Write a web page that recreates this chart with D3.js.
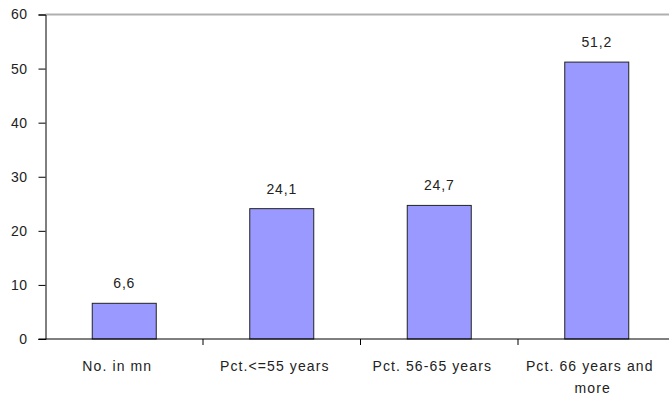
<!DOCTYPE html>
<html>
<head>
<meta charset="utf-8">
<script src="https://cdn.jsdelivr.net/npm/d3@7/dist/d3.min.js"></script>
<style>
  html, body { margin: 0; padding: 0; background: #fff; }
  svg text { font-family: "Liberation Sans", Arial, sans-serif; fill: #222; }
</style>
</head>
<body>
<svg id="chart" width="669" height="398"></svg>
<script>
const categories = ["No. in mn", "Pct.<=55 years", "Pct. 56-65 years", "Pct. 66 years and|more"];
const values = [6.6, 24.1, 24.7, 51.2];
const valueLabels = ["6,6", "24,1", "24,7", "51,2"];
const yTicks = [0, 10, 20, 30, 40, 50, 60];

(function () {
const svg = d3.select("#chart");
const mLeft = 45.5, mRight = 675.5, mTop = 14.5, mBottom = 339;

const x = d3.scaleBand().domain(categories).range([mLeft, mRight]).paddingInner(0).paddingOuter(0);
const y = d3.scaleLinear().domain([0, 60]).range([mBottom, mTop]);

// top frame line of the plot area
svg.append("line")
  .attr("x1", mLeft).attr("x2", 669)
  .attr("y1", y(60)).attr("y2", y(60))
  .attr("stroke", "#b0b0b0").attr("stroke-width", 2);

// bars
const barW = 64;
svg.selectAll("rect.bar").data(values).join("rect")
  .attr("class", "bar")
  .attr("x", (d, i) => x(categories[i]) + x.bandwidth() / 2 - barW / 2)
  .attr("y", d => y(d))
  .attr("width", barW)
  .attr("height", d => y(0) - y(d))
  .attr("fill", "#9999ff")
  .attr("stroke", "#222").attr("stroke-width", 1);

// value labels
svg.selectAll("text.val").data(values).join("text")
  .attr("class", "val")
  .attr("x", (d, i) => x(categories[i]) + x.bandwidth() / 2)
  .attr("y", d => y(d) - 15)
  .attr("text-anchor", "middle")
  .attr("font-size", 14)
  .attr("letter-spacing", 0.8)
  .text((d, i) => valueLabels[i]);

// y axis
const yAxis = d3.axisLeft(y).tickValues(yTicks).tickSize(7).tickPadding(11).tickFormat(d3.format("d"));
const gy = svg.append("g").attr("transform", `translate(${mLeft},0)`).call(yAxis);
gy.select(".domain").attr("stroke", "#000");
gy.selectAll(".tick line").attr("stroke", "#000");
gy.selectAll(".tick text").attr("font-size", 14).attr("letter-spacing", 0.5).style("fill", "#222")
  .attr("font-family", "Liberation Sans, Arial, sans-serif");

// x baseline and category separators
svg.append("line").attr("x1", mLeft - 7).attr("x2", 669).attr("y1", mBottom).attr("y2", mBottom)
  .attr("stroke", "#000");
const seps = categories.slice(1).map(c => x(c));
svg.selectAll("line.sep").data(seps).join("line")
  .attr("class", "sep")
  .attr("x1", d => d).attr("x2", d => d)
  .attr("y1", mBottom).attr("y2", mBottom + 6)
  .attr("stroke", "#000");

// category labels
const cat = svg.selectAll("text.cat").data(categories).join("text")
  .attr("class", "cat")
  .attr("text-anchor", "middle")
  .attr("font-size", 14)
  .attr("letter-spacing", 1.1);
cat.each(function (c) {
  const lines = c.split("|");
  const t = d3.select(this);
  lines.forEach((ln, k) => {
    t.append("tspan")
      .attr("x", x(c) + x.bandwidth() / 2 - (k === 0 ? 7 : 4))
      .attr("y", 371 + k * 22)
      .text(ln);
  });
});
})();
</script>
</body>
</html>
